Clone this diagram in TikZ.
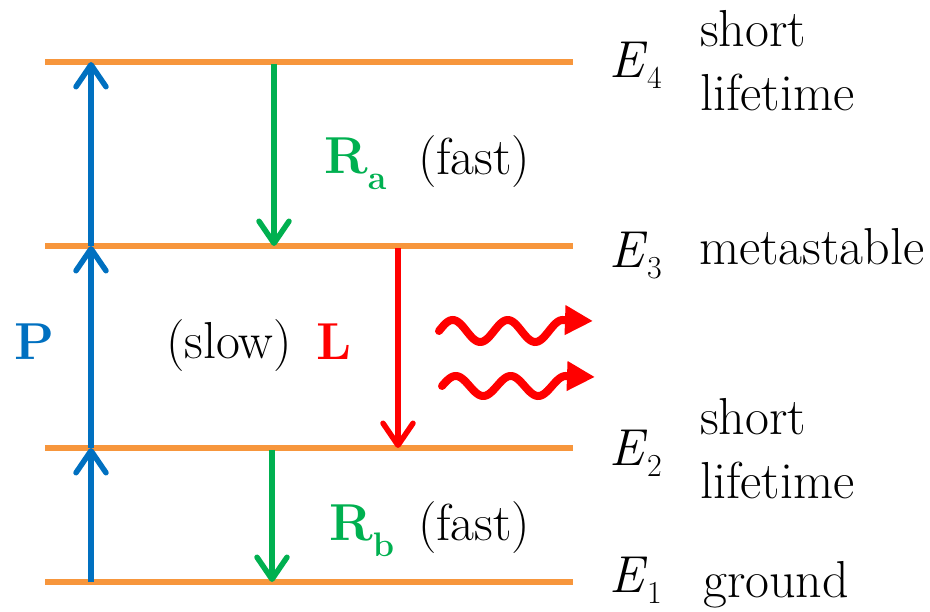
\documentclass[tikz,border=0pt]{standalone}
\usetikzlibrary{arrows.meta}
\definecolor{lvlorange}{RGB}{247,150,60}
\definecolor{pumpblue}{RGB}{0,112,192}
\definecolor{decgreen}{RGB}{0,176,80}
\definecolor{lasred}{RGB}{255,0,0}
\newcommand\levlab[1]{\textit{E}\raisebox{-11pt}{\fontsize{32}{32}\selectfont #1}}
\newcommand\boldsub[2]{\textbf{#1}\raisebox{-16pt}{\fontsize{34}{34}\selectfont\bfseries #2}}
\begin{document}
\begin{tikzpicture}[x=1pt,y=-1pt,
  level/.style={draw=lvlorange,line width=5.5pt},
  barb/.style={-{Straight Barb[length=22pt,width=30pt,round]},line width=5.5pt},
  pumparrow/.style={barb,draw=pumpblue},
  decarrow/.style={barb,draw=decgreen},
  lasarrow/.style={barb,draw=lasred},
  wave/.style={draw=lasred,line width=8pt,line cap=round,-{Triangle[length=28pt,width=28pt]}},
  txt/.style={font=\fontsize{52}{64}\selectfont,inner sep=0pt},
  sidetxt/.style={txt,align=left,anchor=west}]
\useasboundingbox (0,0) rectangle (930,612);
% energy levels
\coordinate (l4w) at (45,62);  \coordinate (l4e) at (573,62);
\coordinate (l3w) at (45,246); \coordinate (l3e) at (573,246);
\coordinate (l2w) at (45,448); \coordinate (l2e) at (573,448);
\coordinate (l1w) at (45,582); \coordinate (l1e) at (573,582);
\draw[level] (l4w) -- (l4e);
\draw[level] (l3w) -- (l3e);
\draw[level] (l2w) -- (l2e);
\draw[level] (l1w) -- (l1e);
% pump arrow
\coordinate (p1) at (91,582); \coordinate (p2) at (91,448);
\coordinate (p3) at (91,246); \coordinate (p4) at (91,62);
\draw[pumparrow] (p1) -- (p2);
\draw[pumparrow] (p2) -- (p3);
\draw[pumparrow] (p3) -- (p4);
% decays
\coordinate (ra1) at (274,64);  \coordinate (ra2) at (274,246);
\coordinate (rb1) at (272,450); \coordinate (rb2) at (272,582);
\coordinate (la1) at (398,248); \coordinate (la2) at (398,448);
\draw[decarrow] (ra1) -- (ra2);
\draw[decarrow] (rb1) -- (rb2);
\draw[lasarrow] (la1) -- (la2);
% photons
\coordinate (w1) at (593,321);
\coordinate (w2) at (595,377);
\draw[wave] plot[domain=0:2.25,samples=90,smooth] ({439+55*\x},{331-11*sin(360*\x)}) -- (w1);
\draw[wave] plot[domain=0:2.25,samples=90,smooth] ({442+55*\x},{386-10*sin(360*\x)}) -- (w2);
% labels
\node[txt,anchor=base west,text=pumpblue] (plab) at (14,360) {\textbf{P}};
\node[txt,anchor=base west] (slow) at (166,359) {(slow)};
\node[txt,anchor=base west,text=lasred] (llab) at (316,360) {\textbf{L}};
\node[txt,anchor=base west,text=decgreen] (ralab) at (324,174) {\boldsub{R}{a}};
\node[txt,anchor=base west] (fasta) at (418,175) {(fast)};
\node[txt,anchor=base west,text=decgreen] (rblab) at (329,540) {\boldsub{R}{b}};
\node[txt,anchor=base west] (fastb) at (418,540) {(fast)};
% level names
\node[txt,anchor=base west] (e4) at (609,78) {\levlab{4}};
\node[txt,anchor=base west] (e3) at (609,268) {\levlab{3}};
\node[txt,anchor=base west] (e2) at (609,466) {\levlab{2}};
\node[txt,anchor=base west] (e1) at (609,592) {\levlab{1}};
\node[sidetxt] (s4) at (700,61) {short\\lifetime};
\node[txt,anchor=base west] (s3) at (699,265) {metastable};
\node[sidetxt] (s2) at (700,449) {short\\lifetime};
\node[txt,anchor=base west] (s1) at (703,597) {ground};
\end{tikzpicture}
\end{document}
